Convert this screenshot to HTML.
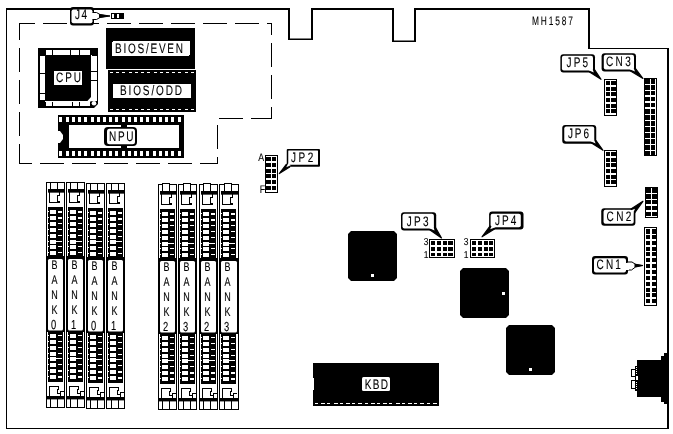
<!DOCTYPE html>
<html lang="en"><head><meta charset="utf-8"><title>MH1587 motherboard layout</title>
<style>html,body{margin:0;padding:0;background:#fff;}svg{display:block;will-change:transform;}text{font-kerning:none;stroke:#000;stroke-width:0.12px;}</style>
</head><body>
<svg width="673" height="434" viewBox="0 0 673 434" shape-rendering="crispEdges" text-rendering="geometricPrecision">
<rect x="6" y="8" width="284" height="2" fill="#000"/>
<rect x="288" y="8" width="2" height="32" fill="#000"/>
<rect x="311" y="8" width="2" height="32" fill="#000"/>
<rect x="288" y="38.5" width="25" height="1.5" fill="#000" shape-rendering="auto"/>
<rect x="311" y="8" width="83" height="2" fill="#000"/>
<rect x="392" y="8" width="2" height="34" fill="#000"/>
<rect x="414" y="8" width="2" height="34" fill="#000"/>
<rect x="392" y="40.5" width="24" height="1.5" fill="#000" shape-rendering="auto"/>
<rect x="414" y="8" width="176" height="2" fill="#000"/>
<rect x="588" y="8" width="2" height="41" fill="#000"/>
<rect x="588" y="48" width="81" height="1" fill="#000"/>
<rect x="667" y="48" width="2" height="381" fill="#000"/>
<rect x="6" y="428" width="663" height="1" fill="#000"/>
<rect x="6" y="8" width="1" height="421" fill="#000"/>
<rect x="19" y="23" width="16" height="1" fill="#000"/>
<rect x="43" y="23" width="24" height="1" fill="#000"/>
<rect x="75" y="23" width="24" height="1" fill="#000"/>
<rect x="107" y="23" width="24" height="1" fill="#000"/>
<rect x="139" y="23" width="24" height="1" fill="#000"/>
<rect x="171" y="23" width="24" height="1" fill="#000"/>
<rect x="203" y="23" width="24" height="1" fill="#000"/>
<rect x="235" y="23" width="24" height="1" fill="#000"/>
<rect x="267" y="23" width="5" height="1" fill="#000"/>
<rect x="271" y="23" width="1" height="12" fill="#000"/>
<rect x="271" y="43" width="1" height="24" fill="#000"/>
<rect x="271" y="75" width="1" height="24" fill="#000"/>
<rect x="271" y="107" width="1" height="12" fill="#000"/>
<rect x="251" y="118" width="21" height="1" fill="#000"/>
<rect x="219" y="118" width="24" height="1" fill="#000"/>
<rect x="217" y="125" width="1" height="24" fill="#000"/>
<rect x="217" y="157" width="1" height="7" fill="#000"/>
<rect x="19" y="163" width="13" height="1" fill="#000"/>
<rect x="40" y="163" width="24" height="1" fill="#000"/>
<rect x="72" y="163" width="24" height="1" fill="#000"/>
<rect x="104" y="163" width="24" height="1" fill="#000"/>
<rect x="136" y="163" width="24" height="1" fill="#000"/>
<rect x="168" y="163" width="24" height="1" fill="#000"/>
<rect x="200" y="163" width="18" height="1" fill="#000"/>
<rect x="19" y="23" width="1" height="17" fill="#000"/>
<rect x="19" y="48" width="1" height="24" fill="#000"/>
<rect x="19" y="80" width="1" height="24" fill="#000"/>
<rect x="19" y="112" width="1" height="24" fill="#000"/>
<rect x="19" y="144" width="1" height="20" fill="#000"/>
<rect x="70" y="7" width="24" height="18.5" rx="3" ry="3" fill="#000" shape-rendering="auto"/>
<rect x="71.5" y="9.5" width="21.0" height="13.7" rx="2" ry="2" fill="#fff" shape-rendering="auto"/>
<text transform="translate(75,19) scale(0.73,1)" font-family="Liberation Sans, Arial, Helvetica, sans-serif" font-size="13.7" font-weight="normal" fill="#000" textLength="16.44" lengthAdjust="spacing">J4</text>
<path d="M93,12.5 L96.5,12.5 L100,14.5 L110,16 L100,17.5 L96.5,19.5 L93,19.5 Z" fill="#fff" stroke="#000" stroke-width="1" shape-rendering="auto"/>
<path d="M99,14 L110.5,16 L99,18 Z" fill="#000" stroke="none" stroke-width="1" shape-rendering="auto"/>
<rect x="91.5" y="13" width="3.0" height="6" fill="#fff"/>
<rect x="111" y="13" width="13" height="6" fill="#000"/>
<rect x="112" y="14" width="2" height="4" fill="#fff"/>
<rect x="117" y="14" width="2" height="4" fill="#fff"/>
<rect x="38" y="48" width="60" height="60" fill="#000"/>
<rect x="46" y="50" width="6" height="5" fill="#fff"/>
<rect x="53" y="50" width="17" height="5" fill="#fff"/>
<rect x="71" y="50" width="8" height="5" fill="#fff"/>
<rect x="80" y="50" width="10" height="5" fill="#fff"/>
<rect x="40" y="56" width="5" height="17" fill="#fff"/>
<rect x="40" y="74" width="5" height="19" fill="#fff"/>
<rect x="40" y="94" width="5" height="6" fill="#fff"/>
<rect x="91" y="56" width="6" height="45" fill="#fff"/>
<rect x="91" y="55" width="1" height="1" fill="#fff"/>
<rect x="91" y="71" width="6" height="1" fill="#000"/>
<rect x="91" y="80" width="6" height="1" fill="#000"/>
<rect x="45" y="101" width="45" height="5" fill="#fff"/>
<rect x="45" y="102" width="1" height="4" fill="#000"/>
<rect x="52" y="102" width="1" height="4" fill="#000"/>
<rect x="72" y="102" width="1" height="4" fill="#000"/>
<rect x="79" y="102" width="1" height="4" fill="#000"/>
<path d="M91,97 L91.5,101.5 L87,101.5 Z" fill="#fff" stroke="none" stroke-width="1" shape-rendering="auto"/>
<path d="M98.5,103.5 L98.5,108.5 L93.5,108.5 Z" fill="#fff" stroke="none" stroke-width="1" shape-rendering="auto"/>
<circle cx="94" cy="103.3" r="2.3" fill="#fff" shape-rendering="auto"/>
<rect x="54" y="71" width="28" height="14" fill="#fff"/>
<text transform="translate(56,82) scale(0.73,1)" font-family="Liberation Sans, Arial, Helvetica, sans-serif" font-size="13.7" font-weight="normal" fill="#000" textLength="34.25" lengthAdjust="spacing">CPU</text>
<rect x="106" y="28" width="89" height="41" fill="#000"/>
<rect x="112" y="41" width="78" height="15" rx="2" fill="#fff"/>
<text transform="translate(115,53) scale(0.73,1)" font-family="Liberation Sans, Arial, Helvetica, sans-serif" font-size="13.7" font-weight="normal" fill="#000" textLength="93.15" lengthAdjust="spacing">BIOS/EVEN</text>
<rect x="108" y="70" width="88" height="42" fill="#000"/>
<rect x="110" y="72" width="3" height="1" fill="#fff"/>
<rect x="110" y="109" width="3" height="1" fill="#fff"/>
<rect x="116" y="72" width="3" height="1" fill="#fff"/>
<rect x="116" y="109" width="3" height="1" fill="#fff"/>
<rect x="122" y="72" width="3" height="1" fill="#fff"/>
<rect x="122" y="109" width="3" height="1" fill="#fff"/>
<rect x="129" y="72" width="3" height="1" fill="#fff"/>
<rect x="129" y="109" width="3" height="1" fill="#fff"/>
<rect x="135" y="72" width="3" height="1" fill="#fff"/>
<rect x="135" y="109" width="3" height="1" fill="#fff"/>
<rect x="141" y="72" width="3" height="1" fill="#fff"/>
<rect x="141" y="109" width="3" height="1" fill="#fff"/>
<rect x="147" y="72" width="3" height="1" fill="#fff"/>
<rect x="147" y="109" width="3" height="1" fill="#fff"/>
<rect x="154" y="72" width="3" height="1" fill="#fff"/>
<rect x="154" y="109" width="3" height="1" fill="#fff"/>
<rect x="160" y="72" width="3" height="1" fill="#fff"/>
<rect x="160" y="109" width="3" height="1" fill="#fff"/>
<rect x="166" y="72" width="3" height="1" fill="#fff"/>
<rect x="166" y="109" width="3" height="1" fill="#fff"/>
<rect x="172" y="72" width="3" height="1" fill="#fff"/>
<rect x="172" y="109" width="3" height="1" fill="#fff"/>
<rect x="178" y="72" width="3" height="1" fill="#fff"/>
<rect x="178" y="109" width="3" height="1" fill="#fff"/>
<rect x="185" y="72" width="3" height="1" fill="#fff"/>
<rect x="185" y="109" width="3" height="1" fill="#fff"/>
<rect x="191" y="72" width="3" height="1" fill="#fff"/>
<rect x="191" y="109" width="3" height="1" fill="#fff"/>
<rect x="113" y="84" width="78" height="14" fill="#fff"/>
<text transform="translate(120,95) scale(0.73,1)" font-family="Liberation Sans, Arial, Helvetica, sans-serif" font-size="13.7" font-weight="normal" fill="#000" textLength="84.93" lengthAdjust="spacing">BIOS/ODD</text>
<rect x="58" y="115" width="126" height="43" fill="#000"/>
<rect x="69" y="125" width="110" height="23" fill="#fff"/>
<rect x="59" y="117" width="3" height="5" fill="#fff"/>
<rect x="59" y="151" width="3" height="5" fill="#fff"/>
<rect x="66" y="117" width="3" height="5" fill="#fff"/>
<rect x="66" y="151" width="3" height="5" fill="#fff"/>
<rect x="72" y="117" width="3" height="5" fill="#fff"/>
<rect x="72" y="151" width="3" height="5" fill="#fff"/>
<rect x="78" y="117" width="3" height="5" fill="#fff"/>
<rect x="78" y="151" width="3" height="5" fill="#fff"/>
<rect x="84" y="117" width="3" height="5" fill="#fff"/>
<rect x="84" y="151" width="3" height="5" fill="#fff"/>
<rect x="91" y="117" width="3" height="5" fill="#fff"/>
<rect x="91" y="151" width="3" height="5" fill="#fff"/>
<rect x="97" y="117" width="3" height="5" fill="#fff"/>
<rect x="97" y="151" width="3" height="5" fill="#fff"/>
<rect x="103" y="117" width="3" height="5" fill="#fff"/>
<rect x="103" y="151" width="3" height="5" fill="#fff"/>
<rect x="109" y="117" width="3" height="5" fill="#fff"/>
<rect x="109" y="151" width="3" height="5" fill="#fff"/>
<rect x="115" y="117" width="3" height="5" fill="#fff"/>
<rect x="115" y="151" width="3" height="5" fill="#fff"/>
<rect x="122" y="117" width="3" height="5" fill="#fff"/>
<rect x="122" y="151" width="3" height="5" fill="#fff"/>
<rect x="128" y="117" width="3" height="5" fill="#fff"/>
<rect x="128" y="151" width="3" height="5" fill="#fff"/>
<rect x="134" y="117" width="3" height="5" fill="#fff"/>
<rect x="134" y="151" width="3" height="5" fill="#fff"/>
<rect x="140" y="117" width="3" height="5" fill="#fff"/>
<rect x="140" y="151" width="3" height="5" fill="#fff"/>
<rect x="146" y="117" width="3" height="5" fill="#fff"/>
<rect x="146" y="151" width="3" height="5" fill="#fff"/>
<rect x="153" y="117" width="3" height="5" fill="#fff"/>
<rect x="153" y="151" width="3" height="5" fill="#fff"/>
<rect x="159" y="117" width="3" height="5" fill="#fff"/>
<rect x="159" y="151" width="3" height="5" fill="#fff"/>
<rect x="165" y="117" width="3" height="5" fill="#fff"/>
<rect x="165" y="151" width="3" height="5" fill="#fff"/>
<rect x="171" y="117" width="3" height="5" fill="#fff"/>
<rect x="171" y="151" width="3" height="5" fill="#fff"/>
<rect x="178" y="117" width="3" height="5" fill="#fff"/>
<rect x="178" y="151" width="3" height="5" fill="#fff"/>
<path d="M58,131 L60,131 L63,135 L63,139 L60,143 L58,143 Z" fill="#fff" stroke="none" stroke-width="1" shape-rendering="auto"/>
<rect x="121" y="125" width="6" height="23" fill="#000"/>
<rect x="104" y="127" width="33" height="19" rx="4" fill="#000" shape-rendering="auto"/>
<rect x="107" y="128.7" width="28" height="15.5" rx="2.5" fill="#fff" shape-rendering="auto"/>
<text transform="translate(109,141) scale(0.73,1)" font-family="Liberation Sans, Arial, Helvetica, sans-serif" font-size="13.7" font-weight="normal" fill="#000" textLength="33.56" lengthAdjust="spacing">NPU</text>
<rect x="265" y="155" width="13" height="38" fill="#000"/>
<rect x="266" y="156" width="11" height="36" fill="#fff"/>
<rect x="266" y="157" width="5" height="4" fill="#000"/>
<rect x="272" y="157" width="4" height="4" fill="#000"/>
<rect x="266" y="163" width="5" height="4" fill="#000"/>
<rect x="272" y="163" width="4" height="4" fill="#000"/>
<rect x="266" y="169" width="5" height="4" fill="#000"/>
<rect x="272" y="169" width="4" height="4" fill="#000"/>
<rect x="266" y="174" width="5" height="4" fill="#000"/>
<rect x="272" y="174" width="4" height="4" fill="#000"/>
<rect x="266" y="180" width="5" height="4" fill="#000"/>
<rect x="272" y="180" width="4" height="4" fill="#000"/>
<rect x="266" y="186" width="5" height="4" fill="#000"/>
<rect x="272" y="186" width="4" height="4" fill="#000"/>
<text transform="translate(261.1,160.5) scale(0.8,1)" font-family="Liberation Sans, Arial, Helvetica, sans-serif" font-size="11" text-anchor="middle">A</text>
<text transform="translate(262.5,192.5) scale(0.8,1)" font-family="Liberation Sans, Arial, Helvetica, sans-serif" font-size="11" text-anchor="middle">F</text>
<rect x="286.75" y="149" width="33.25" height="17.75" rx="1" ry="1" fill="#000" shape-rendering="auto"/>
<rect x="288.25" y="150.5" width="29.75" height="14.25" rx="0.5" ry="0.5" fill="#fff" shape-rendering="auto"/>
<text transform="translate(291,161.7) scale(0.73,1)" font-family="Liberation Sans, Arial, Helvetica, sans-serif" font-size="13.7" font-weight="normal" fill="#000" textLength="30.48" lengthAdjust="spacing">JP2</text>
<polygon points="286.3,164.3 289.7,167 279.3,173.6" fill="#000" stroke="#000" stroke-width="1.2" stroke-linejoin="round" shape-rendering="auto"/>
<polygon points="288.20,163.29 290.75,165.31 286.26,167.24" fill="#fff" shape-rendering="auto"/>
<text transform="translate(532,25) scale(0.68,1)" font-family="Liberation Sans, Arial, Helvetica, sans-serif" font-size="12.3" font-weight="normal" fill="#000" textLength="60.29" lengthAdjust="spacing">MH1587</text>
<rect x="560.4" y="54.25" width="34.60000000000002" height="18.150000000000006" rx="3" ry="3" fill="#000" shape-rendering="auto"/>
<rect x="561.9" y="55.75" width="31.100000000000023" height="14.650000000000006" rx="2" ry="2" fill="#fff" shape-rendering="auto"/>
<text transform="translate(566.6,67) scale(0.73,1)" font-family="Liberation Sans, Arial, Helvetica, sans-serif" font-size="13.7" font-weight="normal" fill="#000" textLength="29.32" lengthAdjust="spacing">JP5</text>
<polygon points="589.5,72 594.5,69.5 601,79.3" fill="#000" stroke="#000" stroke-width="1.2" stroke-linejoin="round" shape-rendering="auto"/>
<polygon points="588.68,70.31 592.43,68.44 593.80,72.46" fill="#fff" shape-rendering="auto"/>
<rect x="604" y="79" width="13" height="37" fill="#000"/>
<rect x="605" y="80" width="11" height="35" fill="#fff"/>
<rect x="606" y="81" width="4" height="4" fill="#000"/>
<rect x="611" y="81" width="5" height="4" fill="#000"/>
<rect x="606" y="87" width="4" height="4" fill="#000"/>
<rect x="611" y="87" width="5" height="4" fill="#000"/>
<rect x="606" y="92" width="4" height="4" fill="#000"/>
<rect x="611" y="92" width="5" height="4" fill="#000"/>
<rect x="606" y="98" width="4" height="4" fill="#000"/>
<rect x="611" y="98" width="5" height="4" fill="#000"/>
<rect x="606" y="104" width="4" height="4" fill="#000"/>
<rect x="611" y="104" width="5" height="4" fill="#000"/>
<rect x="606" y="109" width="4" height="4" fill="#000"/>
<rect x="611" y="109" width="5" height="4" fill="#000"/>
<rect x="601.6" y="53.25" width="34.39999999999998" height="18.25" rx="3" ry="3" fill="#000" shape-rendering="auto"/>
<rect x="603.8000000000001" y="54.75" width="30.199999999999974" height="14.75" rx="2" ry="2" fill="#fff" shape-rendering="auto"/>
<text transform="translate(606,65.7) scale(0.73,1)" font-family="Liberation Sans, Arial, Helvetica, sans-serif" font-size="13.7" font-weight="normal" fill="#000" textLength="33.90" lengthAdjust="spacing">CN3</text>
<polygon points="630.5,71 635.5,68.5 643,78.5" fill="#000" stroke="#000" stroke-width="1.2" stroke-linejoin="round" shape-rendering="auto"/>
<polygon points="629.62,69.37 633.37,67.50 635.00,71.50" fill="#fff" shape-rendering="auto"/>
<rect x="644" y="78" width="13" height="78" fill="#000"/>
<rect x="650" y="79" width="1" height="76" fill="#fff"/>
<rect x="645" y="84" width="11" height="1" fill="#fff"/>
<rect x="645" y="90" width="11" height="1" fill="#fff"/>
<rect x="645" y="96" width="11" height="1" fill="#fff"/>
<rect x="645" y="102" width="11" height="1" fill="#fff"/>
<rect x="645" y="108" width="11" height="1" fill="#fff"/>
<rect x="645" y="114" width="11" height="1" fill="#fff"/>
<rect x="645" y="120" width="11" height="1" fill="#fff"/>
<rect x="645" y="126" width="11" height="1" fill="#fff"/>
<rect x="645" y="132" width="11" height="1" fill="#fff"/>
<rect x="645" y="138" width="11" height="1" fill="#fff"/>
<rect x="645" y="144" width="11" height="1" fill="#fff"/>
<rect x="645" y="150" width="11" height="1" fill="#fff"/>
<rect x="655" y="79" width="1" height="76" fill="#fff"/>
<rect x="645" y="95" width="11" height="1" fill="#fff"/>
<rect x="645" y="101" width="11" height="1" fill="#fff"/>
<rect x="645" y="107" width="11" height="1" fill="#fff"/>
<rect x="562.25" y="125" width="34.0" height="18.75" rx="3" ry="3" fill="#000" shape-rendering="auto"/>
<rect x="564.25" y="126.5" width="30.0" height="14.95" rx="2" ry="2" fill="#fff" shape-rendering="auto"/>
<text transform="translate(567.9,137.9) scale(0.73,1)" font-family="Liberation Sans, Arial, Helvetica, sans-serif" font-size="13.7" font-weight="normal" fill="#000" textLength="29.04" lengthAdjust="spacing">JP6</text>
<polygon points="591.5,143 596,140.5 603,150.3" fill="#000" stroke="#000" stroke-width="1.2" stroke-linejoin="round" shape-rendering="auto"/>
<polygon points="590.59,141.33 593.97,139.45 595.60,143.46" fill="#fff" shape-rendering="auto"/>
<rect x="604" y="150" width="13" height="37" fill="#000"/>
<rect x="605" y="151" width="11" height="35" fill="#fff"/>
<rect x="606" y="152" width="4" height="4" fill="#000"/>
<rect x="611" y="152" width="5" height="4" fill="#000"/>
<rect x="606" y="158" width="4" height="4" fill="#000"/>
<rect x="611" y="158" width="5" height="4" fill="#000"/>
<rect x="606" y="163" width="4" height="4" fill="#000"/>
<rect x="611" y="163" width="5" height="4" fill="#000"/>
<rect x="606" y="169" width="4" height="4" fill="#000"/>
<rect x="611" y="169" width="5" height="4" fill="#000"/>
<rect x="606" y="175" width="4" height="4" fill="#000"/>
<rect x="611" y="175" width="5" height="4" fill="#000"/>
<rect x="606" y="180" width="4" height="4" fill="#000"/>
<rect x="611" y="180" width="5" height="4" fill="#000"/>
<rect x="645" y="187" width="13" height="31" fill="#000"/>
<rect x="651" y="188" width="1" height="29" fill="#fff"/>
<rect x="646" y="193" width="11" height="1" fill="#fff"/>
<rect x="646" y="199" width="11" height="1" fill="#fff"/>
<rect x="646" y="204" width="11" height="2" fill="#fff"/>
<rect x="646" y="210" width="11" height="2" fill="#fff"/>
<rect x="646" y="216" width="11" height="1" fill="#fff"/>
<rect x="601.25" y="208.25" width="34.14999999999998" height="17.5" rx="3" ry="3" fill="#000" shape-rendering="auto"/>
<rect x="603.55" y="209.75" width="30.149999999999977" height="14.0" rx="2" ry="2" fill="#fff" shape-rendering="auto"/>
<text transform="translate(606.6,220.6) scale(0.73,1)" font-family="Liberation Sans, Arial, Helvetica, sans-serif" font-size="13.7" font-weight="normal" fill="#000" textLength="33.77" lengthAdjust="spacing">CN2</text>
<polygon points="631,209 635,212.5 642.9,201.3" fill="#000" stroke="#000" stroke-width="1.2" stroke-linejoin="round" shape-rendering="auto"/>
<polygon points="630.05,210.82 633.05,213.44 634.98,208.86" fill="#fff" shape-rendering="auto"/>
<rect x="644" y="227" width="13" height="79" fill="#000"/>
<rect x="645" y="228" width="11" height="77" fill="#fff"/>
<rect x="646" y="229" width="4" height="5" fill="#000"/>
<rect x="652" y="229" width="5" height="5" fill="#000"/>
<rect x="646" y="235" width="4" height="4" fill="#000"/>
<rect x="652" y="235" width="5" height="4" fill="#000"/>
<rect x="646" y="241" width="4" height="4" fill="#000"/>
<rect x="652" y="241" width="5" height="4" fill="#000"/>
<rect x="646" y="247" width="4" height="4" fill="#000"/>
<rect x="652" y="247" width="5" height="4" fill="#000"/>
<rect x="646" y="252" width="4" height="4" fill="#000"/>
<rect x="652" y="252" width="5" height="4" fill="#000"/>
<rect x="646" y="258" width="4" height="4" fill="#000"/>
<rect x="652" y="258" width="5" height="4" fill="#000"/>
<rect x="646" y="264" width="4" height="4" fill="#000"/>
<rect x="652" y="264" width="5" height="4" fill="#000"/>
<rect x="646" y="270" width="4" height="4" fill="#000"/>
<rect x="652" y="270" width="5" height="4" fill="#000"/>
<rect x="646" y="276" width="4" height="4" fill="#000"/>
<rect x="652" y="276" width="5" height="4" fill="#000"/>
<rect x="646" y="282" width="4" height="4" fill="#000"/>
<rect x="652" y="282" width="5" height="4" fill="#000"/>
<rect x="646" y="288" width="4" height="4" fill="#000"/>
<rect x="652" y="288" width="5" height="4" fill="#000"/>
<rect x="646" y="293" width="4" height="4" fill="#000"/>
<rect x="652" y="293" width="5" height="4" fill="#000"/>
<rect x="646" y="299" width="4" height="4" fill="#000"/>
<rect x="652" y="299" width="5" height="4" fill="#000"/>
<rect x="592" y="256" width="36" height="18.5" rx="3" ry="3" fill="#000" shape-rendering="auto"/>
<rect x="594" y="258.2" width="32" height="14.3" rx="2" ry="2" fill="#fff" shape-rendering="auto"/>
<text transform="translate(596.6,269) scale(0.73,1)" font-family="Liberation Sans, Arial, Helvetica, sans-serif" font-size="13.7" font-weight="normal" fill="#000" textLength="33.08" lengthAdjust="spacing">CN1</text>
<path d="M627,262 L632,262 L635.5,264.3 L643,265.5 L635.5,267 L631.5,270 L627,270 Z" fill="#fff" stroke="#000" stroke-width="1" shape-rendering="auto"/>
<path d="M634.5,263.6 L643.3,265.5 L634.5,267.6 Z" fill="#000" stroke="none" stroke-width="1" shape-rendering="auto"/>
<rect x="625.5" y="262.5" width="3.0" height="7.0" fill="#fff"/>
<rect x="401" y="212.3" width="35.19999999999999" height="18.19999999999999" rx="3" ry="3" fill="#000" shape-rendering="auto"/>
<rect x="402.5" y="213.8" width="31.399999999999988" height="14.699999999999989" rx="2" ry="2" fill="#fff" shape-rendering="auto"/>
<text transform="translate(406.8,225.9) scale(0.73,1)" font-family="Liberation Sans, Arial, Helvetica, sans-serif" font-size="13.7" font-weight="normal" fill="#000" textLength="29.73" lengthAdjust="spacing">JP3</text>
<polygon points="430,230 435.5,227.5 441.5,238" fill="#000" stroke="#000" stroke-width="1.2" stroke-linejoin="round" shape-rendering="auto"/>
<polygon points="429.31,228.23 433.44,226.36 434.50,230.60" fill="#fff" shape-rendering="auto"/>
<rect x="429" y="239" width="26" height="19" fill="#000"/>
<rect x="430" y="240" width="24" height="17" fill="#fff"/>
<rect x="431" y="241" width="4" height="4" fill="#000"/>
<rect x="431" y="246.5" width="4" height="4.0" fill="#000"/>
<rect x="431" y="252.5" width="4" height="3.5" fill="#000"/>
<rect x="437" y="241" width="4" height="4" fill="#000"/>
<rect x="437" y="246.5" width="4" height="4.0" fill="#000"/>
<rect x="437" y="252.5" width="4" height="3.5" fill="#000"/>
<rect x="443" y="241" width="4" height="4" fill="#000"/>
<rect x="443" y="246.5" width="4" height="4.0" fill="#000"/>
<rect x="443" y="252.5" width="4" height="3.5" fill="#000"/>
<rect x="448" y="241" width="5" height="4" fill="#000"/>
<rect x="448" y="246.5" width="5" height="4.0" fill="#000"/>
<rect x="448" y="252.5" width="5" height="3.5" fill="#000"/>
<text transform="translate(426.2,244.5) scale(0.85,1)" font-family="Liberation Sans, Arial, Helvetica, sans-serif" font-size="10" text-anchor="middle">3</text>
<text transform="translate(426.2,257.6) scale(0.85,1)" font-family="Liberation Sans, Arial, Helvetica, sans-serif" font-size="10" text-anchor="middle">1</text>
<rect x="489.1" y="211.5" width="34.39999999999998" height="18.0" rx="3" ry="3" fill="#000" shape-rendering="auto"/>
<rect x="490.6" y="213.7" width="30.199999999999978" height="13.5" rx="2" ry="2" fill="#fff" shape-rendering="auto"/>
<text transform="translate(495,224.8) scale(0.73,1)" font-family="Liberation Sans, Arial, Helvetica, sans-serif" font-size="13.7" font-weight="normal" fill="#000" textLength="29.18" lengthAdjust="spacing">JP4</text>
<polygon points="490,226 494.5,229 482,236.8" fill="#000" stroke="#000" stroke-width="1.2" stroke-linejoin="round" shape-rendering="auto"/>
<polygon points="492.04,225.03 495.42,227.28 490.20,229.36" fill="#fff" shape-rendering="auto"/>
<rect x="470" y="239" width="25" height="19" fill="#000"/>
<rect x="471" y="240" width="23" height="17" fill="#fff"/>
<rect x="472" y="241" width="4" height="4" fill="#000"/>
<rect x="472" y="246.5" width="4" height="4.0" fill="#000"/>
<rect x="472" y="252.5" width="4" height="3.5" fill="#000"/>
<rect x="478" y="241" width="4" height="4" fill="#000"/>
<rect x="478" y="246.5" width="4" height="4.0" fill="#000"/>
<rect x="478" y="252.5" width="4" height="3.5" fill="#000"/>
<rect x="483.5" y="241" width="4.0" height="4" fill="#000"/>
<rect x="483.5" y="246.5" width="4.0" height="4.0" fill="#000"/>
<rect x="483.5" y="252.5" width="4.0" height="3.5" fill="#000"/>
<rect x="489" y="241" width="4" height="4" fill="#000"/>
<rect x="489" y="246.5" width="4" height="4.0" fill="#000"/>
<rect x="489" y="252.5" width="4" height="3.5" fill="#000"/>
<text transform="translate(466.2,244.5) scale(0.85,1)" font-family="Liberation Sans, Arial, Helvetica, sans-serif" font-size="10" text-anchor="middle">3</text>
<text transform="translate(466.2,257.6) scale(0.85,1)" font-family="Liberation Sans, Arial, Helvetica, sans-serif" font-size="10" text-anchor="middle">1</text>
<path d="M351,231 L394,231 L397,234 L397,278 L394,281 L351,281 L348,278 L348,234 Z" fill="#000" stroke="none" stroke-width="1" shape-rendering="auto"/>
<rect x="371" y="274" width="3" height="3" fill="#fff"/>
<path d="M463,268 L506,268 L509,271 L509,315 L506,318 L463,318 L460,315 L460,271 Z" fill="#000" stroke="none" stroke-width="1" shape-rendering="auto"/>
<rect x="502" y="292" width="3" height="3" fill="#fff"/>
<path d="M509,325 L552,325 L555,328 L555,372 L552,375 L509,375 L506,372 L506,328 Z" fill="#000" stroke="none" stroke-width="1" shape-rendering="auto"/>
<rect x="529" y="368" width="3" height="3" fill="#fff"/>
<rect x="313" y="363" width="126" height="43" fill="#000"/>
<rect x="313" y="378" width="1" height="12" fill="#fff"/>
<rect x="315" y="403" width="3" height="1" fill="#fff"/>
<rect x="321" y="403" width="4" height="1" fill="#fff"/>
<rect x="327" y="403" width="3" height="1" fill="#fff"/>
<rect x="334" y="403" width="4" height="1" fill="#fff"/>
<rect x="340" y="403" width="3" height="1" fill="#fff"/>
<rect x="346" y="403" width="4" height="1" fill="#fff"/>
<rect x="352" y="403" width="3" height="1" fill="#fff"/>
<rect x="358" y="403" width="4" height="1" fill="#fff"/>
<rect x="365" y="403" width="3" height="1" fill="#fff"/>
<rect x="371" y="403" width="4" height="1" fill="#fff"/>
<rect x="377" y="403" width="3" height="1" fill="#fff"/>
<rect x="383" y="403" width="4" height="1" fill="#fff"/>
<rect x="389" y="403" width="3" height="1" fill="#fff"/>
<rect x="396" y="403" width="4" height="1" fill="#fff"/>
<rect x="402" y="403" width="3" height="1" fill="#fff"/>
<rect x="408" y="403" width="4" height="1" fill="#fff"/>
<rect x="414" y="403" width="3" height="1" fill="#fff"/>
<rect x="420" y="403" width="4" height="1" fill="#fff"/>
<rect x="427" y="403" width="3" height="1" fill="#fff"/>
<rect x="433" y="403" width="4" height="1" fill="#fff"/>
<rect x="362" y="377" width="28" height="14" rx="1.5" fill="#fff" shape-rendering="auto"/>
<text transform="translate(364.8,389) scale(0.73,1)" font-family="Liberation Sans, Arial, Helvetica, sans-serif" font-size="13.7" font-weight="normal" fill="#000" textLength="31.92" lengthAdjust="spacing">KBD</text>
<rect x="637" y="360" width="31" height="37" fill="#000"/>
<rect x="661" y="356" width="7" height="46" fill="#000"/>
<rect x="664" y="353" width="4" height="51" fill="#000"/>
<rect x="635" y="366" width="2" height="25" fill="#000"/>
<rect x="631" y="369" width="5" height="8" fill="#000"/>
<rect x="632" y="370" width="3" height="6" fill="#fff"/>
<rect x="631" y="380" width="5" height="9" fill="#000"/>
<rect x="632" y="381" width="3" height="7" fill="#fff"/>
<rect x="636" y="376" width="2" height="4" fill="#fff"/>
<rect x="636" y="367" width="1" height="1" fill="#fff"/>
<rect x="636" y="369" width="1" height="1" fill="#fff"/>
<rect x="636" y="371" width="1" height="1" fill="#fff"/>
<rect x="636" y="373" width="1" height="1" fill="#fff"/>
<rect x="636" y="382" width="1" height="1" fill="#fff"/>
<rect x="636" y="384" width="1" height="1" fill="#fff"/>
<rect x="636" y="386" width="1" height="1" fill="#fff"/>
<rect x="636" y="388" width="1" height="1" fill="#fff"/>
<rect x="46" y="182" width="1" height="226" fill="#000"/>
<rect x="64" y="182" width="1" height="226" fill="#000"/>
<rect x="46" y="182" width="19" height="1" fill="#000"/>
<rect x="46" y="407" width="19" height="1" fill="#000"/>
<rect x="50" y="182" width="1" height="7" fill="#000"/>
<rect x="57" y="182" width="1" height="7" fill="#000"/>
<rect x="48" y="189" width="16" height="3.65" fill="#000" shape-rendering="auto"/>
<rect x="49" y="192" width="1" height="11" fill="#000"/>
<rect x="49" y="202" width="11" height="1" fill="#000"/>
<rect x="59" y="192" width="1" height="3" fill="#000"/>
<rect x="57" y="195" width="3" height="1" fill="#000"/>
<rect x="57" y="195" width="1" height="7" fill="#000"/>
<rect x="57" y="201" width="3" height="1" fill="#000"/>
<rect x="48" y="207" width="15" height="50" fill="#000"/>
<rect x="50" y="210" width="6" height="4" fill="#fff"/>
<rect x="58" y="211" width="4" height="2" fill="#fff"/>
<rect x="48" y="211" width="1" height="1" fill="#fff"/>
<rect x="50" y="216" width="6" height="4" fill="#fff"/>
<rect x="58" y="217" width="4" height="2" fill="#fff"/>
<rect x="48" y="217" width="1" height="1" fill="#fff"/>
<rect x="50" y="222" width="6" height="4" fill="#fff"/>
<rect x="58" y="223" width="4" height="1" fill="#fff"/>
<rect x="48" y="223" width="1" height="1" fill="#fff"/>
<rect x="50" y="228" width="6" height="4" fill="#fff"/>
<rect x="58" y="229" width="4" height="1" fill="#fff"/>
<rect x="48" y="229" width="1" height="1" fill="#fff"/>
<rect x="50" y="234" width="6" height="4" fill="#fff"/>
<rect x="58" y="235" width="4" height="1" fill="#fff"/>
<rect x="48" y="235" width="1" height="1" fill="#fff"/>
<rect x="50" y="240" width="6" height="4" fill="#fff"/>
<rect x="58" y="241" width="4" height="1" fill="#fff"/>
<rect x="56" y="241" width="2" height="1" fill="#fff"/>
<rect x="48" y="241" width="1" height="1" fill="#fff"/>
<rect x="50" y="245" width="6" height="4" fill="#fff"/>
<rect x="58" y="246" width="4" height="1" fill="#fff"/>
<rect x="48" y="246" width="1" height="1" fill="#fff"/>
<rect x="50" y="251" width="6" height="4" fill="#fff"/>
<rect x="58" y="252" width="4" height="1" fill="#fff"/>
<rect x="48" y="252" width="1" height="1" fill="#fff"/>
<rect x="46" y="256" width="19" height="76" fill="#000"/>
<rect x="48" y="259" width="15" height="71.5" rx="1.5" fill="#fff" shape-rendering="auto"/>
<text transform="translate(54.6,0) scale(0.72,1)" font-family="Liberation Sans, Arial, Helvetica, sans-serif" font-size="12.5" text-anchor="middle"><tspan x="0" y="269">B</tspan><tspan x="0" y="284">A</tspan><tspan x="0" y="299">N</tspan><tspan x="0" y="314">K</tspan><tspan x="-1.25" y="329" font-size="13">0</tspan></text>
<rect x="48" y="332" width="15" height="50" fill="#000"/>
<rect x="50" y="334" width="6" height="4" fill="#fff"/>
<rect x="58" y="335" width="4" height="1" fill="#fff"/>
<rect x="48" y="335" width="1" height="1" fill="#fff"/>
<rect x="50" y="340" width="6" height="4" fill="#fff"/>
<rect x="58" y="341" width="4" height="1" fill="#fff"/>
<rect x="48" y="341" width="1" height="1" fill="#fff"/>
<rect x="50" y="346" width="6" height="4" fill="#fff"/>
<rect x="58" y="347" width="4" height="1" fill="#fff"/>
<rect x="48" y="347" width="1" height="1" fill="#fff"/>
<rect x="50" y="352" width="6" height="4" fill="#fff"/>
<rect x="58" y="353" width="4" height="1" fill="#fff"/>
<rect x="48" y="353" width="1" height="1" fill="#fff"/>
<rect x="50" y="357" width="6" height="4" fill="#fff"/>
<rect x="58" y="358" width="4" height="1" fill="#fff"/>
<rect x="56" y="358" width="2" height="1" fill="#fff"/>
<rect x="48" y="358" width="1" height="1" fill="#fff"/>
<rect x="50" y="363" width="6" height="4" fill="#fff"/>
<rect x="58" y="364" width="4" height="1" fill="#fff"/>
<rect x="48" y="364" width="1" height="1" fill="#fff"/>
<rect x="50" y="369" width="6" height="4" fill="#fff"/>
<rect x="58" y="370" width="4" height="2" fill="#fff"/>
<rect x="48" y="370" width="1" height="1" fill="#fff"/>
<rect x="50" y="375" width="6" height="4" fill="#fff"/>
<rect x="58" y="376" width="4" height="2" fill="#fff"/>
<rect x="48" y="376" width="1" height="1" fill="#fff"/>
<rect x="49" y="386" width="1" height="10" fill="#000"/>
<rect x="49" y="386" width="10" height="1" fill="#000"/>
<rect x="58" y="386" width="1" height="3" fill="#000"/>
<rect x="57" y="389" width="2" height="1" fill="#000"/>
<rect x="57" y="389" width="1" height="5" fill="#000"/>
<rect x="57" y="393" width="4" height="1" fill="#000"/>
<rect x="60" y="391" width="1" height="5" fill="#000"/>
<rect x="60" y="391" width="4" height="1" fill="#000"/>
<rect x="47" y="396" width="17" height="3.4" fill="#000" shape-rendering="auto"/>
<rect x="50" y="399" width="1" height="8" fill="#000"/>
<rect x="57" y="399" width="1" height="8" fill="#000"/>
<rect x="66" y="182" width="1" height="226" fill="#000"/>
<rect x="84" y="182" width="1" height="226" fill="#000"/>
<rect x="66" y="182" width="19" height="1" fill="#000"/>
<rect x="66" y="407" width="19" height="1" fill="#000"/>
<rect x="70" y="182" width="1" height="7" fill="#000"/>
<rect x="77" y="182" width="1" height="7" fill="#000"/>
<rect x="68" y="189" width="16" height="3.65" fill="#000" shape-rendering="auto"/>
<rect x="69" y="192" width="1" height="11" fill="#000"/>
<rect x="69" y="202" width="11" height="1" fill="#000"/>
<rect x="79" y="192" width="1" height="3" fill="#000"/>
<rect x="77" y="195" width="3" height="1" fill="#000"/>
<rect x="77" y="195" width="1" height="7" fill="#000"/>
<rect x="77" y="201" width="3" height="1" fill="#000"/>
<rect x="68" y="207" width="15" height="50" fill="#000"/>
<rect x="70" y="210" width="6" height="4" fill="#fff"/>
<rect x="78" y="211" width="4" height="2" fill="#fff"/>
<rect x="68" y="211" width="1" height="1" fill="#fff"/>
<rect x="70" y="216" width="6" height="4" fill="#fff"/>
<rect x="78" y="217" width="4" height="2" fill="#fff"/>
<rect x="68" y="217" width="1" height="1" fill="#fff"/>
<rect x="70" y="222" width="6" height="4" fill="#fff"/>
<rect x="78" y="223" width="4" height="1" fill="#fff"/>
<rect x="68" y="223" width="1" height="1" fill="#fff"/>
<rect x="70" y="228" width="6" height="4" fill="#fff"/>
<rect x="78" y="229" width="4" height="1" fill="#fff"/>
<rect x="68" y="229" width="1" height="1" fill="#fff"/>
<rect x="70" y="234" width="6" height="4" fill="#fff"/>
<rect x="78" y="235" width="4" height="1" fill="#fff"/>
<rect x="68" y="235" width="1" height="1" fill="#fff"/>
<rect x="70" y="240" width="6" height="4" fill="#fff"/>
<rect x="78" y="241" width="4" height="1" fill="#fff"/>
<rect x="76" y="241" width="2" height="1" fill="#fff"/>
<rect x="68" y="241" width="1" height="1" fill="#fff"/>
<rect x="70" y="245" width="6" height="4" fill="#fff"/>
<rect x="78" y="246" width="4" height="1" fill="#fff"/>
<rect x="68" y="246" width="1" height="1" fill="#fff"/>
<rect x="70" y="251" width="6" height="4" fill="#fff"/>
<rect x="78" y="252" width="4" height="1" fill="#fff"/>
<rect x="68" y="252" width="1" height="1" fill="#fff"/>
<rect x="66" y="256" width="19" height="76" fill="#000"/>
<rect x="68" y="259" width="15" height="71.5" rx="1.5" fill="#fff" shape-rendering="auto"/>
<text transform="translate(74.6,0) scale(0.72,1)" font-family="Liberation Sans, Arial, Helvetica, sans-serif" font-size="12.5" text-anchor="middle"><tspan x="0" y="269">B</tspan><tspan x="0" y="284">A</tspan><tspan x="0" y="299">N</tspan><tspan x="0" y="314">K</tspan><tspan x="-1.25" y="329" font-size="13">1</tspan></text>
<rect x="68" y="332" width="15" height="50" fill="#000"/>
<rect x="70" y="334" width="6" height="4" fill="#fff"/>
<rect x="78" y="335" width="4" height="1" fill="#fff"/>
<rect x="68" y="335" width="1" height="1" fill="#fff"/>
<rect x="70" y="340" width="6" height="4" fill="#fff"/>
<rect x="78" y="341" width="4" height="1" fill="#fff"/>
<rect x="68" y="341" width="1" height="1" fill="#fff"/>
<rect x="70" y="346" width="6" height="4" fill="#fff"/>
<rect x="78" y="347" width="4" height="1" fill="#fff"/>
<rect x="68" y="347" width="1" height="1" fill="#fff"/>
<rect x="70" y="352" width="6" height="4" fill="#fff"/>
<rect x="78" y="353" width="4" height="1" fill="#fff"/>
<rect x="68" y="353" width="1" height="1" fill="#fff"/>
<rect x="70" y="357" width="6" height="4" fill="#fff"/>
<rect x="78" y="358" width="4" height="1" fill="#fff"/>
<rect x="76" y="358" width="2" height="1" fill="#fff"/>
<rect x="68" y="358" width="1" height="1" fill="#fff"/>
<rect x="70" y="363" width="6" height="4" fill="#fff"/>
<rect x="78" y="364" width="4" height="1" fill="#fff"/>
<rect x="68" y="364" width="1" height="1" fill="#fff"/>
<rect x="70" y="369" width="6" height="4" fill="#fff"/>
<rect x="78" y="370" width="4" height="2" fill="#fff"/>
<rect x="68" y="370" width="1" height="1" fill="#fff"/>
<rect x="70" y="375" width="6" height="4" fill="#fff"/>
<rect x="78" y="376" width="4" height="2" fill="#fff"/>
<rect x="68" y="376" width="1" height="1" fill="#fff"/>
<rect x="69" y="386" width="1" height="10" fill="#000"/>
<rect x="69" y="386" width="10" height="1" fill="#000"/>
<rect x="78" y="386" width="1" height="3" fill="#000"/>
<rect x="77" y="389" width="2" height="1" fill="#000"/>
<rect x="77" y="389" width="1" height="5" fill="#000"/>
<rect x="77" y="393" width="4" height="1" fill="#000"/>
<rect x="80" y="391" width="1" height="5" fill="#000"/>
<rect x="80" y="391" width="4" height="1" fill="#000"/>
<rect x="67" y="396" width="17" height="3.4" fill="#000" shape-rendering="auto"/>
<rect x="70" y="399" width="1" height="8" fill="#000"/>
<rect x="77" y="399" width="1" height="8" fill="#000"/>
<rect x="86" y="183" width="1" height="226" fill="#000"/>
<rect x="104" y="183" width="1" height="226" fill="#000"/>
<rect x="86" y="183" width="19" height="1" fill="#000"/>
<rect x="86" y="408" width="19" height="1" fill="#000"/>
<rect x="90" y="183" width="1" height="7" fill="#000"/>
<rect x="97" y="183" width="1" height="7" fill="#000"/>
<rect x="88" y="190" width="16" height="3.65" fill="#000" shape-rendering="auto"/>
<rect x="89" y="193" width="1" height="11" fill="#000"/>
<rect x="89" y="203" width="11" height="1" fill="#000"/>
<rect x="99" y="193" width="1" height="3" fill="#000"/>
<rect x="97" y="196" width="3" height="1" fill="#000"/>
<rect x="97" y="196" width="1" height="7" fill="#000"/>
<rect x="97" y="202" width="3" height="1" fill="#000"/>
<rect x="88" y="208" width="15" height="50" fill="#000"/>
<rect x="90" y="211" width="6" height="4" fill="#fff"/>
<rect x="98" y="212" width="4" height="2" fill="#fff"/>
<rect x="88" y="212" width="1" height="1" fill="#fff"/>
<rect x="90" y="217" width="6" height="4" fill="#fff"/>
<rect x="98" y="218" width="4" height="2" fill="#fff"/>
<rect x="88" y="218" width="1" height="1" fill="#fff"/>
<rect x="90" y="223" width="6" height="4" fill="#fff"/>
<rect x="98" y="224" width="4" height="1" fill="#fff"/>
<rect x="88" y="224" width="1" height="1" fill="#fff"/>
<rect x="90" y="229" width="6" height="4" fill="#fff"/>
<rect x="98" y="230" width="4" height="1" fill="#fff"/>
<rect x="88" y="230" width="1" height="1" fill="#fff"/>
<rect x="90" y="235" width="6" height="4" fill="#fff"/>
<rect x="98" y="236" width="4" height="1" fill="#fff"/>
<rect x="88" y="236" width="1" height="1" fill="#fff"/>
<rect x="90" y="240" width="6" height="4" fill="#fff"/>
<rect x="98" y="241" width="4" height="1" fill="#fff"/>
<rect x="96" y="241" width="2" height="1" fill="#fff"/>
<rect x="88" y="241" width="1" height="1" fill="#fff"/>
<rect x="90" y="246" width="6" height="4" fill="#fff"/>
<rect x="98" y="247" width="4" height="1" fill="#fff"/>
<rect x="88" y="247" width="1" height="1" fill="#fff"/>
<rect x="90" y="252" width="6" height="4" fill="#fff"/>
<rect x="98" y="253" width="4" height="1" fill="#fff"/>
<rect x="88" y="253" width="1" height="1" fill="#fff"/>
<rect x="86" y="257" width="19" height="76" fill="#000"/>
<rect x="88" y="260" width="15" height="71.5" rx="1.5" fill="#fff" shape-rendering="auto"/>
<text transform="translate(94.6,0) scale(0.72,1)" font-family="Liberation Sans, Arial, Helvetica, sans-serif" font-size="12.5" text-anchor="middle"><tspan x="0" y="270">B</tspan><tspan x="0" y="285">A</tspan><tspan x="0" y="300">N</tspan><tspan x="0" y="315">K</tspan><tspan x="-1.25" y="330" font-size="13">0</tspan></text>
<rect x="88" y="333" width="15" height="50" fill="#000"/>
<rect x="90" y="335" width="6" height="4" fill="#fff"/>
<rect x="98" y="336" width="4" height="1" fill="#fff"/>
<rect x="88" y="336" width="1" height="1" fill="#fff"/>
<rect x="90" y="341" width="6" height="4" fill="#fff"/>
<rect x="98" y="342" width="4" height="1" fill="#fff"/>
<rect x="88" y="342" width="1" height="1" fill="#fff"/>
<rect x="90" y="347" width="6" height="4" fill="#fff"/>
<rect x="98" y="348" width="4" height="1" fill="#fff"/>
<rect x="88" y="348" width="1" height="1" fill="#fff"/>
<rect x="90" y="353" width="6" height="4" fill="#fff"/>
<rect x="98" y="354" width="4" height="1" fill="#fff"/>
<rect x="88" y="354" width="1" height="1" fill="#fff"/>
<rect x="90" y="358" width="6" height="4" fill="#fff"/>
<rect x="98" y="359" width="4" height="1" fill="#fff"/>
<rect x="96" y="359" width="2" height="1" fill="#fff"/>
<rect x="88" y="359" width="1" height="1" fill="#fff"/>
<rect x="90" y="364" width="6" height="4" fill="#fff"/>
<rect x="98" y="365" width="4" height="1" fill="#fff"/>
<rect x="88" y="365" width="1" height="1" fill="#fff"/>
<rect x="90" y="370" width="6" height="4" fill="#fff"/>
<rect x="98" y="371" width="4" height="2" fill="#fff"/>
<rect x="88" y="371" width="1" height="1" fill="#fff"/>
<rect x="90" y="376" width="6" height="4" fill="#fff"/>
<rect x="98" y="377" width="4" height="2" fill="#fff"/>
<rect x="88" y="377" width="1" height="1" fill="#fff"/>
<rect x="89" y="387" width="1" height="10" fill="#000"/>
<rect x="89" y="387" width="10" height="1" fill="#000"/>
<rect x="98" y="387" width="1" height="3" fill="#000"/>
<rect x="97" y="390" width="2" height="1" fill="#000"/>
<rect x="97" y="390" width="1" height="5" fill="#000"/>
<rect x="97" y="394" width="4" height="1" fill="#000"/>
<rect x="100" y="392" width="1" height="5" fill="#000"/>
<rect x="100" y="392" width="4" height="1" fill="#000"/>
<rect x="87" y="397" width="17" height="3.4" fill="#000" shape-rendering="auto"/>
<rect x="90" y="400" width="1" height="8" fill="#000"/>
<rect x="97" y="400" width="1" height="8" fill="#000"/>
<rect x="106" y="183" width="1" height="226" fill="#000"/>
<rect x="124" y="183" width="1" height="226" fill="#000"/>
<rect x="106" y="183" width="19" height="1" fill="#000"/>
<rect x="106" y="408" width="19" height="1" fill="#000"/>
<rect x="111" y="183" width="1" height="7" fill="#000"/>
<rect x="118" y="183" width="1" height="7" fill="#000"/>
<rect x="108" y="190" width="16" height="3.65" fill="#000" shape-rendering="auto"/>
<rect x="109" y="193" width="1" height="11" fill="#000"/>
<rect x="109" y="203" width="11" height="1" fill="#000"/>
<rect x="119" y="193" width="1" height="3" fill="#000"/>
<rect x="117" y="196" width="3" height="1" fill="#000"/>
<rect x="117" y="196" width="1" height="7" fill="#000"/>
<rect x="117" y="202" width="3" height="1" fill="#000"/>
<rect x="108" y="208" width="15" height="50" fill="#000"/>
<rect x="110" y="211" width="6" height="4" fill="#fff"/>
<rect x="118" y="212" width="4" height="2" fill="#fff"/>
<rect x="108" y="212" width="1" height="1" fill="#fff"/>
<rect x="110" y="217" width="6" height="4" fill="#fff"/>
<rect x="118" y="218" width="4" height="2" fill="#fff"/>
<rect x="108" y="218" width="1" height="1" fill="#fff"/>
<rect x="110" y="223" width="6" height="4" fill="#fff"/>
<rect x="118" y="224" width="4" height="1" fill="#fff"/>
<rect x="108" y="224" width="1" height="1" fill="#fff"/>
<rect x="110" y="229" width="6" height="4" fill="#fff"/>
<rect x="118" y="230" width="4" height="1" fill="#fff"/>
<rect x="108" y="230" width="1" height="1" fill="#fff"/>
<rect x="110" y="235" width="6" height="4" fill="#fff"/>
<rect x="118" y="236" width="4" height="1" fill="#fff"/>
<rect x="108" y="236" width="1" height="1" fill="#fff"/>
<rect x="110" y="240" width="6" height="4" fill="#fff"/>
<rect x="118" y="241" width="4" height="1" fill="#fff"/>
<rect x="116" y="241" width="2" height="1" fill="#fff"/>
<rect x="108" y="241" width="1" height="1" fill="#fff"/>
<rect x="110" y="246" width="6" height="4" fill="#fff"/>
<rect x="118" y="247" width="4" height="1" fill="#fff"/>
<rect x="108" y="247" width="1" height="1" fill="#fff"/>
<rect x="110" y="252" width="6" height="4" fill="#fff"/>
<rect x="118" y="253" width="4" height="1" fill="#fff"/>
<rect x="108" y="253" width="1" height="1" fill="#fff"/>
<rect x="106" y="257" width="19" height="76" fill="#000"/>
<rect x="108" y="260" width="15" height="71.5" rx="1.5" fill="#fff" shape-rendering="auto"/>
<text transform="translate(114.6,0) scale(0.72,1)" font-family="Liberation Sans, Arial, Helvetica, sans-serif" font-size="12.5" text-anchor="middle"><tspan x="0" y="270">B</tspan><tspan x="0" y="285">A</tspan><tspan x="0" y="300">N</tspan><tspan x="0" y="315">K</tspan><tspan x="-1.25" y="330" font-size="13">1</tspan></text>
<rect x="108" y="333" width="15" height="50" fill="#000"/>
<rect x="110" y="335" width="6" height="4" fill="#fff"/>
<rect x="118" y="336" width="4" height="1" fill="#fff"/>
<rect x="108" y="336" width="1" height="1" fill="#fff"/>
<rect x="110" y="341" width="6" height="4" fill="#fff"/>
<rect x="118" y="342" width="4" height="1" fill="#fff"/>
<rect x="108" y="342" width="1" height="1" fill="#fff"/>
<rect x="110" y="347" width="6" height="4" fill="#fff"/>
<rect x="118" y="348" width="4" height="1" fill="#fff"/>
<rect x="108" y="348" width="1" height="1" fill="#fff"/>
<rect x="110" y="353" width="6" height="4" fill="#fff"/>
<rect x="118" y="354" width="4" height="1" fill="#fff"/>
<rect x="108" y="354" width="1" height="1" fill="#fff"/>
<rect x="110" y="358" width="6" height="4" fill="#fff"/>
<rect x="118" y="359" width="4" height="1" fill="#fff"/>
<rect x="116" y="359" width="2" height="1" fill="#fff"/>
<rect x="108" y="359" width="1" height="1" fill="#fff"/>
<rect x="110" y="364" width="6" height="4" fill="#fff"/>
<rect x="118" y="365" width="4" height="1" fill="#fff"/>
<rect x="108" y="365" width="1" height="1" fill="#fff"/>
<rect x="110" y="370" width="6" height="4" fill="#fff"/>
<rect x="118" y="371" width="4" height="2" fill="#fff"/>
<rect x="108" y="371" width="1" height="1" fill="#fff"/>
<rect x="110" y="376" width="6" height="4" fill="#fff"/>
<rect x="118" y="377" width="4" height="2" fill="#fff"/>
<rect x="108" y="377" width="1" height="1" fill="#fff"/>
<rect x="109" y="387" width="1" height="10" fill="#000"/>
<rect x="109" y="387" width="10" height="1" fill="#000"/>
<rect x="118" y="387" width="1" height="3" fill="#000"/>
<rect x="117" y="390" width="2" height="1" fill="#000"/>
<rect x="117" y="390" width="1" height="5" fill="#000"/>
<rect x="117" y="394" width="4" height="1" fill="#000"/>
<rect x="120" y="392" width="1" height="5" fill="#000"/>
<rect x="120" y="392" width="4" height="1" fill="#000"/>
<rect x="107" y="397" width="17" height="3.4" fill="#000" shape-rendering="auto"/>
<rect x="111" y="400" width="1" height="8" fill="#000"/>
<rect x="118" y="400" width="1" height="8" fill="#000"/>
<rect x="158" y="184" width="1" height="226" fill="#000"/>
<rect x="176" y="184" width="1" height="226" fill="#000"/>
<rect x="158" y="184" width="19" height="1" fill="#000"/>
<rect x="158" y="409" width="19" height="1" fill="#000"/>
<rect x="162" y="184" width="1" height="7" fill="#000"/>
<rect x="169" y="184" width="1" height="7" fill="#000"/>
<rect x="163" y="184" width="6" height="1" fill="#fff"/>
<rect x="162" y="183" width="8" height="1" fill="#000"/>
<rect x="160" y="191" width="16" height="3.65" fill="#000" shape-rendering="auto"/>
<rect x="161" y="194" width="1" height="11" fill="#000"/>
<rect x="161" y="204" width="11" height="1" fill="#000"/>
<rect x="171" y="194" width="1" height="3" fill="#000"/>
<rect x="169" y="197" width="3" height="1" fill="#000"/>
<rect x="169" y="197" width="1" height="7" fill="#000"/>
<rect x="169" y="203" width="3" height="1" fill="#000"/>
<rect x="160" y="209" width="15" height="50" fill="#000"/>
<rect x="162" y="212" width="6" height="4" fill="#fff"/>
<rect x="170" y="213" width="4" height="2" fill="#fff"/>
<rect x="160" y="213" width="1" height="1" fill="#fff"/>
<rect x="162" y="218" width="6" height="4" fill="#fff"/>
<rect x="170" y="219" width="4" height="2" fill="#fff"/>
<rect x="160" y="219" width="1" height="1" fill="#fff"/>
<rect x="162" y="224" width="6" height="4" fill="#fff"/>
<rect x="170" y="225" width="4" height="1" fill="#fff"/>
<rect x="160" y="225" width="1" height="1" fill="#fff"/>
<rect x="162" y="230" width="6" height="4" fill="#fff"/>
<rect x="170" y="231" width="4" height="1" fill="#fff"/>
<rect x="160" y="231" width="1" height="1" fill="#fff"/>
<rect x="162" y="236" width="6" height="4" fill="#fff"/>
<rect x="170" y="237" width="4" height="1" fill="#fff"/>
<rect x="160" y="237" width="1" height="1" fill="#fff"/>
<rect x="162" y="242" width="6" height="4" fill="#fff"/>
<rect x="170" y="243" width="4" height="1" fill="#fff"/>
<rect x="168" y="243" width="2" height="1" fill="#fff"/>
<rect x="160" y="243" width="1" height="1" fill="#fff"/>
<rect x="162" y="247" width="6" height="4" fill="#fff"/>
<rect x="170" y="248" width="4" height="1" fill="#fff"/>
<rect x="160" y="248" width="1" height="1" fill="#fff"/>
<rect x="162" y="253" width="6" height="4" fill="#fff"/>
<rect x="170" y="254" width="4" height="1" fill="#fff"/>
<rect x="160" y="254" width="1" height="1" fill="#fff"/>
<rect x="158" y="258" width="19" height="76" fill="#000"/>
<rect x="160" y="261" width="15" height="71.5" rx="1.5" fill="#fff" shape-rendering="auto"/>
<text transform="translate(166.6,0) scale(0.72,1)" font-family="Liberation Sans, Arial, Helvetica, sans-serif" font-size="12.5" text-anchor="middle"><tspan x="0" y="271">B</tspan><tspan x="0" y="286">A</tspan><tspan x="0" y="301">N</tspan><tspan x="0" y="316">K</tspan><tspan x="-1.25" y="331" font-size="13">2</tspan></text>
<rect x="160" y="334" width="15" height="50" fill="#000"/>
<rect x="162" y="336" width="6" height="4" fill="#fff"/>
<rect x="170" y="337" width="4" height="1" fill="#fff"/>
<rect x="160" y="337" width="1" height="1" fill="#fff"/>
<rect x="162" y="342" width="6" height="4" fill="#fff"/>
<rect x="170" y="343" width="4" height="1" fill="#fff"/>
<rect x="160" y="343" width="1" height="1" fill="#fff"/>
<rect x="162" y="348" width="6" height="4" fill="#fff"/>
<rect x="170" y="349" width="4" height="1" fill="#fff"/>
<rect x="160" y="349" width="1" height="1" fill="#fff"/>
<rect x="162" y="354" width="6" height="4" fill="#fff"/>
<rect x="170" y="355" width="4" height="1" fill="#fff"/>
<rect x="160" y="355" width="1" height="1" fill="#fff"/>
<rect x="162" y="359" width="6" height="4" fill="#fff"/>
<rect x="170" y="360" width="4" height="1" fill="#fff"/>
<rect x="168" y="360" width="2" height="1" fill="#fff"/>
<rect x="160" y="360" width="1" height="1" fill="#fff"/>
<rect x="162" y="365" width="6" height="4" fill="#fff"/>
<rect x="170" y="366" width="4" height="1" fill="#fff"/>
<rect x="160" y="366" width="1" height="1" fill="#fff"/>
<rect x="162" y="371" width="6" height="4" fill="#fff"/>
<rect x="170" y="372" width="4" height="2" fill="#fff"/>
<rect x="160" y="372" width="1" height="1" fill="#fff"/>
<rect x="162" y="377" width="6" height="4" fill="#fff"/>
<rect x="170" y="378" width="4" height="2" fill="#fff"/>
<rect x="160" y="378" width="1" height="1" fill="#fff"/>
<rect x="161" y="388" width="1" height="10" fill="#000"/>
<rect x="161" y="388" width="10" height="1" fill="#000"/>
<rect x="170" y="388" width="1" height="3" fill="#000"/>
<rect x="169" y="391" width="2" height="1" fill="#000"/>
<rect x="169" y="391" width="1" height="5" fill="#000"/>
<rect x="169" y="395" width="4" height="1" fill="#000"/>
<rect x="172" y="393" width="1" height="5" fill="#000"/>
<rect x="172" y="393" width="4" height="1" fill="#000"/>
<rect x="159" y="398" width="17" height="3.4" fill="#000" shape-rendering="auto"/>
<rect x="162" y="401" width="1" height="8" fill="#000"/>
<rect x="169" y="401" width="1" height="8" fill="#000"/>
<rect x="178" y="184" width="1" height="226" fill="#000"/>
<rect x="196" y="184" width="1" height="226" fill="#000"/>
<rect x="178" y="184" width="19" height="1" fill="#000"/>
<rect x="178" y="409" width="19" height="1" fill="#000"/>
<rect x="183" y="184" width="1" height="7" fill="#000"/>
<rect x="190" y="184" width="1" height="7" fill="#000"/>
<rect x="184" y="184" width="6" height="1" fill="#fff"/>
<rect x="183" y="183" width="8" height="1" fill="#000"/>
<rect x="180" y="191" width="16" height="3.65" fill="#000" shape-rendering="auto"/>
<rect x="181" y="194" width="1" height="11" fill="#000"/>
<rect x="181" y="204" width="11" height="1" fill="#000"/>
<rect x="191" y="194" width="1" height="3" fill="#000"/>
<rect x="189" y="197" width="3" height="1" fill="#000"/>
<rect x="189" y="197" width="1" height="7" fill="#000"/>
<rect x="189" y="203" width="3" height="1" fill="#000"/>
<rect x="180" y="209" width="15" height="50" fill="#000"/>
<rect x="182" y="212" width="6" height="4" fill="#fff"/>
<rect x="190" y="213" width="4" height="2" fill="#fff"/>
<rect x="180" y="213" width="1" height="1" fill="#fff"/>
<rect x="182" y="218" width="6" height="4" fill="#fff"/>
<rect x="190" y="219" width="4" height="2" fill="#fff"/>
<rect x="180" y="219" width="1" height="1" fill="#fff"/>
<rect x="182" y="224" width="6" height="4" fill="#fff"/>
<rect x="190" y="225" width="4" height="1" fill="#fff"/>
<rect x="180" y="225" width="1" height="1" fill="#fff"/>
<rect x="182" y="230" width="6" height="4" fill="#fff"/>
<rect x="190" y="231" width="4" height="1" fill="#fff"/>
<rect x="180" y="231" width="1" height="1" fill="#fff"/>
<rect x="182" y="236" width="6" height="4" fill="#fff"/>
<rect x="190" y="237" width="4" height="1" fill="#fff"/>
<rect x="180" y="237" width="1" height="1" fill="#fff"/>
<rect x="182" y="242" width="6" height="4" fill="#fff"/>
<rect x="190" y="243" width="4" height="1" fill="#fff"/>
<rect x="188" y="243" width="2" height="1" fill="#fff"/>
<rect x="180" y="243" width="1" height="1" fill="#fff"/>
<rect x="182" y="247" width="6" height="4" fill="#fff"/>
<rect x="190" y="248" width="4" height="1" fill="#fff"/>
<rect x="180" y="248" width="1" height="1" fill="#fff"/>
<rect x="182" y="253" width="6" height="4" fill="#fff"/>
<rect x="190" y="254" width="4" height="1" fill="#fff"/>
<rect x="180" y="254" width="1" height="1" fill="#fff"/>
<rect x="178" y="258" width="19" height="76" fill="#000"/>
<rect x="180" y="261" width="15" height="71.5" rx="1.5" fill="#fff" shape-rendering="auto"/>
<text transform="translate(186.6,0) scale(0.72,1)" font-family="Liberation Sans, Arial, Helvetica, sans-serif" font-size="12.5" text-anchor="middle"><tspan x="0" y="271">B</tspan><tspan x="0" y="286">A</tspan><tspan x="0" y="301">N</tspan><tspan x="0" y="316">K</tspan><tspan x="-1.25" y="331" font-size="13">3</tspan></text>
<rect x="180" y="334" width="15" height="50" fill="#000"/>
<rect x="182" y="336" width="6" height="4" fill="#fff"/>
<rect x="190" y="337" width="4" height="1" fill="#fff"/>
<rect x="180" y="337" width="1" height="1" fill="#fff"/>
<rect x="182" y="342" width="6" height="4" fill="#fff"/>
<rect x="190" y="343" width="4" height="1" fill="#fff"/>
<rect x="180" y="343" width="1" height="1" fill="#fff"/>
<rect x="182" y="348" width="6" height="4" fill="#fff"/>
<rect x="190" y="349" width="4" height="1" fill="#fff"/>
<rect x="180" y="349" width="1" height="1" fill="#fff"/>
<rect x="182" y="354" width="6" height="4" fill="#fff"/>
<rect x="190" y="355" width="4" height="1" fill="#fff"/>
<rect x="180" y="355" width="1" height="1" fill="#fff"/>
<rect x="182" y="359" width="6" height="4" fill="#fff"/>
<rect x="190" y="360" width="4" height="1" fill="#fff"/>
<rect x="188" y="360" width="2" height="1" fill="#fff"/>
<rect x="180" y="360" width="1" height="1" fill="#fff"/>
<rect x="182" y="365" width="6" height="4" fill="#fff"/>
<rect x="190" y="366" width="4" height="1" fill="#fff"/>
<rect x="180" y="366" width="1" height="1" fill="#fff"/>
<rect x="182" y="371" width="6" height="4" fill="#fff"/>
<rect x="190" y="372" width="4" height="2" fill="#fff"/>
<rect x="180" y="372" width="1" height="1" fill="#fff"/>
<rect x="182" y="377" width="6" height="4" fill="#fff"/>
<rect x="190" y="378" width="4" height="2" fill="#fff"/>
<rect x="180" y="378" width="1" height="1" fill="#fff"/>
<rect x="181" y="388" width="1" height="10" fill="#000"/>
<rect x="181" y="388" width="10" height="1" fill="#000"/>
<rect x="190" y="388" width="1" height="3" fill="#000"/>
<rect x="189" y="391" width="2" height="1" fill="#000"/>
<rect x="189" y="391" width="1" height="5" fill="#000"/>
<rect x="189" y="395" width="4" height="1" fill="#000"/>
<rect x="192" y="393" width="1" height="5" fill="#000"/>
<rect x="192" y="393" width="4" height="1" fill="#000"/>
<rect x="179" y="398" width="17" height="3.4" fill="#000" shape-rendering="auto"/>
<rect x="183" y="401" width="1" height="8" fill="#000"/>
<rect x="190" y="401" width="1" height="8" fill="#000"/>
<rect x="199" y="184" width="1" height="226" fill="#000"/>
<rect x="217" y="184" width="1" height="226" fill="#000"/>
<rect x="199" y="184" width="19" height="1" fill="#000"/>
<rect x="199" y="409" width="19" height="1" fill="#000"/>
<rect x="203" y="184" width="1" height="7" fill="#000"/>
<rect x="210" y="184" width="1" height="7" fill="#000"/>
<rect x="204" y="184" width="6" height="1" fill="#fff"/>
<rect x="203" y="183" width="8" height="1" fill="#000"/>
<rect x="201" y="191" width="16" height="3.65" fill="#000" shape-rendering="auto"/>
<rect x="202" y="194" width="1" height="11" fill="#000"/>
<rect x="202" y="204" width="11" height="1" fill="#000"/>
<rect x="212" y="194" width="1" height="3" fill="#000"/>
<rect x="210" y="197" width="3" height="1" fill="#000"/>
<rect x="210" y="197" width="1" height="7" fill="#000"/>
<rect x="210" y="203" width="3" height="1" fill="#000"/>
<rect x="201" y="209" width="15" height="50" fill="#000"/>
<rect x="203" y="212" width="6" height="4" fill="#fff"/>
<rect x="211" y="213" width="4" height="2" fill="#fff"/>
<rect x="201" y="213" width="1" height="1" fill="#fff"/>
<rect x="203" y="218" width="6" height="4" fill="#fff"/>
<rect x="211" y="219" width="4" height="2" fill="#fff"/>
<rect x="201" y="219" width="1" height="1" fill="#fff"/>
<rect x="203" y="224" width="6" height="4" fill="#fff"/>
<rect x="211" y="225" width="4" height="1" fill="#fff"/>
<rect x="201" y="225" width="1" height="1" fill="#fff"/>
<rect x="203" y="230" width="6" height="4" fill="#fff"/>
<rect x="211" y="231" width="4" height="1" fill="#fff"/>
<rect x="201" y="231" width="1" height="1" fill="#fff"/>
<rect x="203" y="236" width="6" height="4" fill="#fff"/>
<rect x="211" y="237" width="4" height="1" fill="#fff"/>
<rect x="201" y="237" width="1" height="1" fill="#fff"/>
<rect x="203" y="242" width="6" height="4" fill="#fff"/>
<rect x="211" y="243" width="4" height="1" fill="#fff"/>
<rect x="209" y="243" width="2" height="1" fill="#fff"/>
<rect x="201" y="243" width="1" height="1" fill="#fff"/>
<rect x="203" y="247" width="6" height="4" fill="#fff"/>
<rect x="211" y="248" width="4" height="1" fill="#fff"/>
<rect x="201" y="248" width="1" height="1" fill="#fff"/>
<rect x="203" y="253" width="6" height="4" fill="#fff"/>
<rect x="211" y="254" width="4" height="1" fill="#fff"/>
<rect x="201" y="254" width="1" height="1" fill="#fff"/>
<rect x="199" y="258" width="19" height="76" fill="#000"/>
<rect x="201" y="261" width="15" height="71.5" rx="1.5" fill="#fff" shape-rendering="auto"/>
<text transform="translate(207.6,0) scale(0.72,1)" font-family="Liberation Sans, Arial, Helvetica, sans-serif" font-size="12.5" text-anchor="middle"><tspan x="0" y="271">B</tspan><tspan x="0" y="286">A</tspan><tspan x="0" y="301">N</tspan><tspan x="0" y="316">K</tspan><tspan x="-1.25" y="331" font-size="13">2</tspan></text>
<rect x="201" y="334" width="15" height="50" fill="#000"/>
<rect x="203" y="336" width="6" height="4" fill="#fff"/>
<rect x="211" y="337" width="4" height="1" fill="#fff"/>
<rect x="201" y="337" width="1" height="1" fill="#fff"/>
<rect x="203" y="342" width="6" height="4" fill="#fff"/>
<rect x="211" y="343" width="4" height="1" fill="#fff"/>
<rect x="201" y="343" width="1" height="1" fill="#fff"/>
<rect x="203" y="348" width="6" height="4" fill="#fff"/>
<rect x="211" y="349" width="4" height="1" fill="#fff"/>
<rect x="201" y="349" width="1" height="1" fill="#fff"/>
<rect x="203" y="354" width="6" height="4" fill="#fff"/>
<rect x="211" y="355" width="4" height="1" fill="#fff"/>
<rect x="201" y="355" width="1" height="1" fill="#fff"/>
<rect x="203" y="359" width="6" height="4" fill="#fff"/>
<rect x="211" y="360" width="4" height="1" fill="#fff"/>
<rect x="209" y="360" width="2" height="1" fill="#fff"/>
<rect x="201" y="360" width="1" height="1" fill="#fff"/>
<rect x="203" y="365" width="6" height="4" fill="#fff"/>
<rect x="211" y="366" width="4" height="1" fill="#fff"/>
<rect x="201" y="366" width="1" height="1" fill="#fff"/>
<rect x="203" y="371" width="6" height="4" fill="#fff"/>
<rect x="211" y="372" width="4" height="2" fill="#fff"/>
<rect x="201" y="372" width="1" height="1" fill="#fff"/>
<rect x="203" y="377" width="6" height="4" fill="#fff"/>
<rect x="211" y="378" width="4" height="2" fill="#fff"/>
<rect x="201" y="378" width="1" height="1" fill="#fff"/>
<rect x="202" y="388" width="1" height="10" fill="#000"/>
<rect x="202" y="388" width="10" height="1" fill="#000"/>
<rect x="211" y="388" width="1" height="3" fill="#000"/>
<rect x="210" y="391" width="2" height="1" fill="#000"/>
<rect x="210" y="391" width="1" height="5" fill="#000"/>
<rect x="210" y="395" width="4" height="1" fill="#000"/>
<rect x="213" y="393" width="1" height="5" fill="#000"/>
<rect x="213" y="393" width="4" height="1" fill="#000"/>
<rect x="200" y="398" width="17" height="3.4" fill="#000" shape-rendering="auto"/>
<rect x="203" y="401" width="1" height="8" fill="#000"/>
<rect x="210" y="401" width="1" height="8" fill="#000"/>
<rect x="219" y="184" width="1" height="226" fill="#000"/>
<rect x="238" y="184" width="1" height="226" fill="#000"/>
<rect x="219" y="184" width="20" height="1" fill="#000"/>
<rect x="219" y="409" width="20" height="1" fill="#000"/>
<rect x="224" y="184" width="1" height="7" fill="#000"/>
<rect x="231" y="184" width="1" height="7" fill="#000"/>
<rect x="225" y="184" width="6" height="1" fill="#fff"/>
<rect x="224" y="183" width="8" height="1" fill="#000"/>
<rect x="221" y="191" width="17" height="3.65" fill="#000" shape-rendering="auto"/>
<rect x="222" y="194" width="1" height="11" fill="#000"/>
<rect x="222" y="204" width="11" height="1" fill="#000"/>
<rect x="232" y="194" width="1" height="3" fill="#000"/>
<rect x="230" y="197" width="3" height="1" fill="#000"/>
<rect x="230" y="197" width="1" height="7" fill="#000"/>
<rect x="230" y="203" width="3" height="1" fill="#000"/>
<rect x="221" y="209" width="15" height="50" fill="#000"/>
<rect x="223" y="212" width="6" height="4" fill="#fff"/>
<rect x="231" y="213" width="4" height="2" fill="#fff"/>
<rect x="221" y="213" width="1" height="1" fill="#fff"/>
<rect x="223" y="218" width="6" height="4" fill="#fff"/>
<rect x="231" y="219" width="4" height="2" fill="#fff"/>
<rect x="221" y="219" width="1" height="1" fill="#fff"/>
<rect x="223" y="224" width="6" height="4" fill="#fff"/>
<rect x="231" y="225" width="4" height="1" fill="#fff"/>
<rect x="221" y="225" width="1" height="1" fill="#fff"/>
<rect x="223" y="230" width="6" height="4" fill="#fff"/>
<rect x="231" y="231" width="4" height="1" fill="#fff"/>
<rect x="221" y="231" width="1" height="1" fill="#fff"/>
<rect x="223" y="236" width="6" height="4" fill="#fff"/>
<rect x="231" y="237" width="4" height="1" fill="#fff"/>
<rect x="221" y="237" width="1" height="1" fill="#fff"/>
<rect x="223" y="242" width="6" height="4" fill="#fff"/>
<rect x="231" y="243" width="4" height="1" fill="#fff"/>
<rect x="229" y="243" width="2" height="1" fill="#fff"/>
<rect x="221" y="243" width="1" height="1" fill="#fff"/>
<rect x="223" y="247" width="6" height="4" fill="#fff"/>
<rect x="231" y="248" width="4" height="1" fill="#fff"/>
<rect x="221" y="248" width="1" height="1" fill="#fff"/>
<rect x="223" y="253" width="6" height="4" fill="#fff"/>
<rect x="231" y="254" width="4" height="1" fill="#fff"/>
<rect x="221" y="254" width="1" height="1" fill="#fff"/>
<rect x="219" y="258" width="20" height="76" fill="#000"/>
<rect x="221" y="261" width="16" height="71.5" rx="1.5" fill="#fff" shape-rendering="auto"/>
<text transform="translate(227.6,0) scale(0.72,1)" font-family="Liberation Sans, Arial, Helvetica, sans-serif" font-size="12.5" text-anchor="middle"><tspan x="0" y="271">B</tspan><tspan x="0" y="286">A</tspan><tspan x="0" y="301">N</tspan><tspan x="0" y="316">K</tspan><tspan x="-1.25" y="331" font-size="13">3</tspan></text>
<rect x="221" y="334" width="15" height="50" fill="#000"/>
<rect x="223" y="336" width="6" height="4" fill="#fff"/>
<rect x="231" y="337" width="4" height="1" fill="#fff"/>
<rect x="221" y="337" width="1" height="1" fill="#fff"/>
<rect x="223" y="342" width="6" height="4" fill="#fff"/>
<rect x="231" y="343" width="4" height="1" fill="#fff"/>
<rect x="221" y="343" width="1" height="1" fill="#fff"/>
<rect x="223" y="348" width="6" height="4" fill="#fff"/>
<rect x="231" y="349" width="4" height="1" fill="#fff"/>
<rect x="221" y="349" width="1" height="1" fill="#fff"/>
<rect x="223" y="354" width="6" height="4" fill="#fff"/>
<rect x="231" y="355" width="4" height="1" fill="#fff"/>
<rect x="221" y="355" width="1" height="1" fill="#fff"/>
<rect x="223" y="359" width="6" height="4" fill="#fff"/>
<rect x="231" y="360" width="4" height="1" fill="#fff"/>
<rect x="229" y="360" width="2" height="1" fill="#fff"/>
<rect x="221" y="360" width="1" height="1" fill="#fff"/>
<rect x="223" y="365" width="6" height="4" fill="#fff"/>
<rect x="231" y="366" width="4" height="1" fill="#fff"/>
<rect x="221" y="366" width="1" height="1" fill="#fff"/>
<rect x="223" y="371" width="6" height="4" fill="#fff"/>
<rect x="231" y="372" width="4" height="2" fill="#fff"/>
<rect x="221" y="372" width="1" height="1" fill="#fff"/>
<rect x="223" y="377" width="6" height="4" fill="#fff"/>
<rect x="231" y="378" width="4" height="2" fill="#fff"/>
<rect x="221" y="378" width="1" height="1" fill="#fff"/>
<rect x="222" y="388" width="1" height="10" fill="#000"/>
<rect x="222" y="388" width="10" height="1" fill="#000"/>
<rect x="231" y="388" width="1" height="3" fill="#000"/>
<rect x="230" y="391" width="2" height="1" fill="#000"/>
<rect x="230" y="391" width="1" height="5" fill="#000"/>
<rect x="230" y="395" width="4" height="1" fill="#000"/>
<rect x="233" y="393" width="1" height="5" fill="#000"/>
<rect x="233" y="393" width="4" height="1" fill="#000"/>
<rect x="220" y="398" width="18" height="3.4" fill="#000" shape-rendering="auto"/>
<rect x="224" y="401" width="1" height="8" fill="#000"/>
<rect x="231" y="401" width="1" height="8" fill="#000"/>
</svg>
</body></html>
